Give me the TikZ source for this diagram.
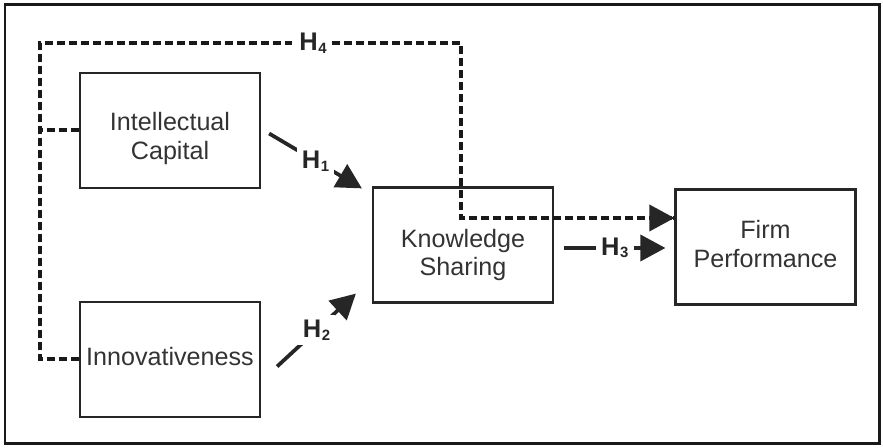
\documentclass[tikz,border=0pt]{standalone}
\usepackage{fontspec}
\setmainfont{Liberation Sans}
\usetikzlibrary{arrows.meta,calc}

\newcommand{\hyplabel}[1]{H\kern0.3pt\raisebox{-1.5pt}{\fontsize{8.5}{9}\selectfont #1}}

\begin{document}
\begin{tikzpicture}[x=0.02cm,y=-0.02cm,
    box/.style={draw=black!85,line width=0.045cm,minimum width=3.6cm,minimum height=2.3cm,inner sep=0pt},
    boxtext/.style={align=center,font=\fontsize{14.3}{16}\selectfont,text=black!80,inner sep=0pt},
    hyp/.style={fill=white,inner sep=3pt,font=\bfseries\fontsize{14.5}{15}\selectfont,text=black!85},
    link/.style={line width=0.075cm,draw=black!85,-{Triangle[length=0.5cm,width=0.52cm]}},
    dashlink/.style={line width=0.08cm,draw=black!90,dash pattern=on 0.16cm off 0.08cm}]

    \useasboundingbox (0,0) rectangle (883,448);

    % Outer frame
    \draw[line width=0.06cm,draw=black!90] (5,5) rectangle (879,444);

    % Constructs
    \node[box] (ic) at (170,130.5) {};
    \node[box] (inn) at (170,359.5) {};
    \node[box] (ks) at (463,245) {};
    \node[box] (fp) at (765.5,247) {};

    \node[boxtext] (ictext) at ($(ic.center)+(0,8)$) {Intellectual\\Capital};
    \node[boxtext] (inntext) at ($(inn.center)+(0,-3)$) {Innovativeness};
    \node[boxtext] (kstext) at ($(ks.center)+(0,10)$) {Knowledge\\Sharing};
    \node[boxtext] (fptext) at ($(fp.center)+(0,-3)$) {Firm\\Performance};

    % Dashed path (H4)
    \coordinate (tl) at (40,43);
    \coordinate (drop) at (461,218);
    \draw[dashlink] (inn.west) -| (tl) -| (drop) -- (fp.west |- drop);
    \draw[dashlink] (ic.west) -- (ic.west -| tl);
    \draw[link] ($(fp.west |- drop)+(-2,0)$) -- (fp.west |- drop);
    \node[hyp] (h4) at (313,43) {\hyplabel{4}};

    % Direct paths
    \draw[link] ($(ic.east)+(8,3)$) -- node[hyp] (h1) {\hyplabel{1}} ($(ks.north west)+(-10,2)$);
    \draw[link] ($(inn.east)+(16,7)$) -- node[hyp] (h2) {\hyplabel{2}} ($(ks.south west)+(-16,-10)$);
    \draw[link] ($(ks.east)+(10,3)$) -- node[hyp] (h3) {\hyplabel{3}} ($(fp.west)+(-9,1)$);

\end{tikzpicture}
\end{document}
